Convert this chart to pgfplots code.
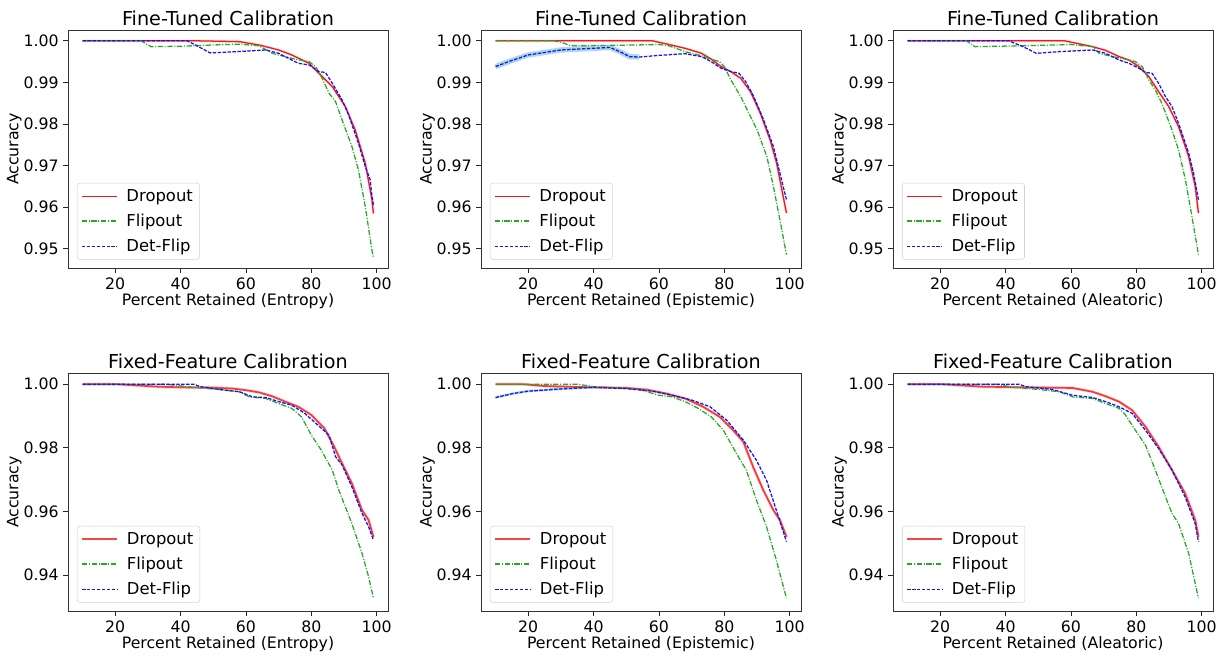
\documentclass[border=0pt]{standalone}
\usepackage{pgfplots}
\pgfplotsset{compat=1.18}
\usepackage{pgfplotstable}
\usepackage{fontspec}
\setmainfont{DejaVu Sans}

\definecolor{dropred}{RGB}{240,25,25}
\definecolor{flipgreen}{RGB}{40,170,40}
\definecolor{detblue}{RGB}{20,20,245}
\definecolor{bandblue}{RGB}{173,216,230}

% ---------- Fine-Tuned, Entropy ----------
\pgfplotstableread{
x y
10 1.0
45 1.0
58 0.9998
64 0.9990
70 0.9978
74 0.9966
79.3 0.9946
82.3 0.9922
86.4 0.9890
90.4 0.9842
93.4 0.9786
96.5 0.9706
98.5 0.9620
99 0.9585
}\TLd
\pgfplotstableread{
x y
10 1.0
28 1.0
29.5 0.9992
31 0.9986
40 0.9987
50 0.9990
58 0.9992
64 0.9988
68 0.9970
72 0.9962
75 0.9956
79.3 0.9950
81.3 0.9938
83.3 0.9910
85.4 0.9874
87.4 0.9854
89.4 0.9810
92.4 0.9746
94.4 0.9690
96.5 0.9602
98.5 0.9498
99 0.9480
}\TLf
\pgfplotstableread{
x y
10 1.0
42 1.0
45 0.9988
49 0.9971
55 0.9973
66 0.9978
70 0.9970
74 0.9954
76 0.9946
79.3 0.9942
82.3 0.9926
84.3 0.9924
86.4 0.9898
89.4 0.9858
91.4 0.9822
94.4 0.9754
96.5 0.9698
98 0.9666
98.5 0.9630
99 0.9605
}\TLb
% ---------- Fine-Tuned, Epistemic ----------
\pgfplotstableread{
x y
10 1.0
58 1.0
62 0.9993
68 0.9982
73 0.9970
76 0.9956
79 0.9938
82 0.9926
85 0.9910
88 0.9878
91 0.9826
94 0.9762
96 0.9706
98 0.9626
99 0.9586
}\TMd
\pgfplotstableread{
x y
10 1.0
28 1.0
31 0.9994
33 0.9988
45 0.9989
60 0.9991
63 0.9988
68 0.9974
73 0.9964
76 0.9956
78.5 0.9950
80 0.9938
82 0.9906
85 0.9866
88 0.9818
90 0.9786
93 0.9722
95 0.9650
97 0.9570
99 0.9486
}\TMf
\pgfplotstableread{
x y
10 0.9938
14 0.9950
20 0.9966
30 0.9978
40 0.9982
45 0.9984
48 0.9974
51 0.9962
54 0.9961
60 0.9965
68 0.9969
73 0.9962
76 0.9950
79 0.9934
82 0.9926
84.5 0.9922
86.5 0.9902
89 0.9866
92 0.9810
95 0.9746
97 0.9682
99 0.9618
}\TMb
% ---------- Fine-Tuned, Aleatoric ----------
\pgfplotstableread{
x y
10 1.0
58 1.0
60.5 0.9996
66.6 0.9986
70.6 0.9977
74.7 0.9962
77.7 0.9954
80.8 0.9938
83.8 0.9914
86.8 0.9878
89.9 0.9842
92.9 0.9794
96 0.9722
98 0.9650
99 0.9586
}\TRd
\pgfplotstableread{
x y
10 1.0
28 1.0
30.6 0.9986
45 0.9988
60 0.9991
66.6 0.9986
68.6 0.9970
72.7 0.9962
76.7 0.9956
79.7 0.9950
81.8 0.9938
83.8 0.9906
85.8 0.9882
87.8 0.9850
90.9 0.9786
92.9 0.9738
95 0.9666
97 0.9578
99 0.9486
}\TRf
\pgfplotstableread{
x y
10 1.0
41 1.0
45.3 0.9986
49.4 0.9970
56.5 0.9974
66.6 0.9978
70.6 0.9970
74.7 0.9954
77.7 0.9946
80.8 0.9934
82.8 0.9924
84.8 0.9922
86.8 0.9898
88.9 0.9866
90.9 0.9842
92.9 0.9802
96 0.9730
97.5 0.9682
99 0.9618
}\TRb
% ---------- Fixed-Feature, Entropy ----------
\pgfplotstableread{
x y
10 1.0
20 1.0
33 0.9992
40 0.9990
50 0.9989
56 0.9986
60 0.9981
64 0.9974
68 0.9962
72 0.9945
76 0.9929
80 0.9903
84 0.9861
87 0.9803
89.4 0.9751
92.4 0.9688
95.5 0.9604
97.5 0.9573
99 0.9520
}\BLd
\pgfplotstableread{
x y
10 1.0
35 1.0
44 0.9990
52 0.9983
58 0.9976
61 0.9960
66 0.9955
70 0.9939
74 0.9924
77 0.9897
80 0.9840
83 0.9793
86.4 0.9730
88.4 0.9667
92.4 0.9562
95.5 0.9468
97.5 0.9395
99 0.9327
}\BLf
\pgfplotstableread{
x y
10 1.0
44 1.0
46 0.9992
52 0.9983
58 0.9976
62 0.9960
66 0.9958
70 0.9945
74 0.9934
78 0.9908
82 0.9871
85.4 0.9840
87.4 0.9772
89.4 0.9746
92.4 0.9677
95.5 0.9594
97.5 0.9552
99 0.9510
}\BLb
% ---------- Fixed-Feature, Epistemic ----------
\pgfplotstableread{
x y
10 1.0
18 1.0
25 0.9994
35 0.9991
50 0.9988
56 0.9983
62 0.9971
68 0.9955
73.5 0.9929
78.6 0.9897
82.7 0.9855
85.8 0.9819
88.8 0.9740
91.9 0.9667
95 0.9604
97 0.9573
99 0.9520
}\BMd
\pgfplotstableread{
x y
10 1.0
35 1.0
40 0.9992
46 0.9989
54 0.9983
60 0.9965
64 0.9960
68 0.9945
72 0.9924
76 0.9897
79.7 0.9855
83.7 0.9782
86.7 0.9730
89.8 0.9636
92.9 0.9552
95.9 0.9447
99 0.9327
}\BMf
\pgfplotstableread{
x y
10 0.9958
15.6 0.9971
20 0.9978
30 0.9985
40 0.9990
50 0.9986
58 0.9978
64 0.9965
70 0.9950
75.6 0.9929
80.7 0.9887
85.8 0.9824
89.8 0.9761
92.9 0.9698
95.9 0.9604
99 0.9505
}\BMb
% ---------- Fixed-Feature, Aleatoric ----------
\pgfplotstableread{
x y
10 1.0
20 1.0
33 0.9992
45 0.9990
60.5 0.9988
66.6 0.9976
70.6 0.9962
74.7 0.9945
78.7 0.9918
82.8 0.9866
86.8 0.9803
90.9 0.9730
94.9 0.9657
98 0.9573
99 0.9520
}\BRd
\pgfplotstableread{
x y
10 1.0
37 1.0
42.3 0.9990
50.4 0.9983
56.5 0.9976
60.5 0.9960
66.6 0.9955
70.6 0.9939
74.7 0.9924
76.7 0.9903
79.7 0.9855
82.8 0.9808
85.8 0.9730
88.9 0.9646
90.9 0.9594
92.9 0.9562
96 0.9468
99 0.9327
}\BRf
\pgfplotstableread{
x y
10 1.0
44 1.0
46.3 0.9992
54.4 0.9983
60.5 0.9965
66.6 0.9958
70.6 0.9945
74.7 0.9929
78.7 0.9908
82.8 0.9855
86.8 0.9798
90.9 0.9730
94.9 0.9646
98 0.9562
99 0.9505
}\BRb

\pgfplotsset{
  panel/.style={
    scale only axis, width=240pt, height=178.5pt,
    xmin=5.55, xmax=103.45, xtick={20,40,60,80,100},
    tick align=outside, tick pos=left, major tick length=3.5pt,
    tick style={black!85, line width=0.6pt},
    axis line style={black!80, line width=0.6pt},
    ylabel={Accuracy},
    /pgf/number format/assume math mode=true,
    scaled y ticks=false,
    yticklabel style={/pgf/number format/.cd, fixed, fixed zerofill, precision=2},
    tick label style={font=\fontsize{11.8}{13}\selectfont},
    label style={font=\fontsize{11.8}{13}\selectfont},
    title style={font=\fontsize{14.4}{16}\selectfont, yshift=-6.5pt},
    ylabel style={yshift=-5.5pt},
    xlabel style={yshift=4pt},
    legend cell align=left,
    legend style={at={(0.028,0.035)}, anchor=south west,
      draw=black!18, rounded corners=2pt, fill=white,
      font=\fontsize{12.3}{14}\selectfont, row sep=4pt,
      inner xsep=3pt, inner ysep=2.5pt,
      /tikz/every odd column/.append style={column sep=5pt}},
    legend image code/.code={\draw[#1] (0pt,0pt) -- (26pt,0pt);},
  },
  toprow/.style={panel, ymin=0.9454, ymax=1.0026,
    ytick={0.95,0.96,0.97,0.98,0.99,1.00}, title={Fine-Tuned Calibration}},
  botrow/.style={panel, ymin=0.9287, ymax=1.0035,
    ytick={0.94,0.96,0.98,1.00}, title={Fixed-Feature Calibration}},
  dstyle/.style={dropred, line width=0.95pt},
  dstyleB/.style={dropred, line width=1.3pt, opacity=0.8},
  fstyle/.style={flipgreen, line width=0.95pt, dash pattern=on 4pt off 1.2pt on 0.8pt off 1.2pt},
  bstyle/.style={detblue, line width=0.95pt, dash pattern=on 2.6pt off 1.1pt},
}

\begin{document}
\begin{tikzpicture}
\useasboundingbox (0pt,0pt) rectangle (921pt,-492pt);

% ===== Top row =====
\begin{axis}[toprow, at={(51pt,-22.5pt)}, anchor=north west,
  xlabel={Percent Retained (Entropy)}]
  \addplot[red!35, line width=1.8pt, opacity=0.5, forget plot] table {\TLd};
  \addplot[dstyle] table {\TLd};
  \addplot[fstyle] table {\TLf};
  \addplot[bstyle] table {\TLb};
  \legend{Dropout,Flipout,Det-Flip}
\end{axis}

\begin{axis}[toprow, at={(360.75pt,-22.5pt)}, anchor=north west,
  xlabel={Percent Retained (Epistemic)}]
  \addplot[red!35, line width=1.8pt, opacity=0.5, forget plot] table {\TMd};
  \addplot[bandblue, line width=4pt, forget plot, restrict x to domain=10:56] table {\TMb};
  \addplot[dstyle] table {\TMd};
  \addplot[fstyle] table {\TMf};
  \addplot[bstyle] table {\TMb};
  \legend{Dropout,Flipout,Det-Flip}
\end{axis}

\begin{axis}[toprow, at={(669.75pt,-22.5pt)}, anchor=north west,
  xlabel={Percent Retained (Aleatoric)}]
  \addplot[red!35, line width=1.8pt, opacity=0.5, forget plot] table {\TRd};
  \addplot[dstyle] table {\TRd};
  \addplot[fstyle] table {\TRf};
  \addplot[bstyle] table {\TRb};
  \legend{Dropout,Flipout,Det-Flip}
\end{axis}

% ===== Bottom row =====
\begin{axis}[botrow, at={(51pt,-279.75pt)}, anchor=north west,
  xlabel={Percent Retained (Entropy)}]
  \addplot[red!35, line width=2.2pt, opacity=0.5, forget plot] table {\BLd};
  \addplot[dstyleB] table {\BLd};
  \addplot[fstyle] table {\BLf};
  \addplot[bstyle] table {\BLb};
  \legend{Dropout,Flipout,Det-Flip}
\end{axis}

\begin{axis}[botrow, at={(360.75pt,-279.75pt)}, anchor=north west,
  xlabel={Percent Retained (Epistemic)}]
  \addplot[red!35, line width=2.2pt, opacity=0.5, forget plot] table {\BMd};
  \addplot[bandblue, line width=1.8pt, forget plot, restrict x to domain=10:40] table {\BMb};
  \addplot[dstyleB] table {\BMd};
  \addplot[fstyle] table {\BMf};
  \addplot[bstyle] table {\BMb};
  \legend{Dropout,Flipout,Det-Flip}
\end{axis}

\begin{axis}[botrow, at={(669.75pt,-279.75pt)}, anchor=north west,
  xlabel={Percent Retained (Aleatoric)}]
  \addplot[red!35, line width=2.2pt, opacity=0.5, forget plot] table {\BRd};
  \addplot[dstyleB] table {\BRd};
  \addplot[fstyle] table {\BRf};
  \addplot[bstyle] table {\BRb};
  \legend{Dropout,Flipout,Det-Flip}
\end{axis}
\end{tikzpicture}
\end{document}
